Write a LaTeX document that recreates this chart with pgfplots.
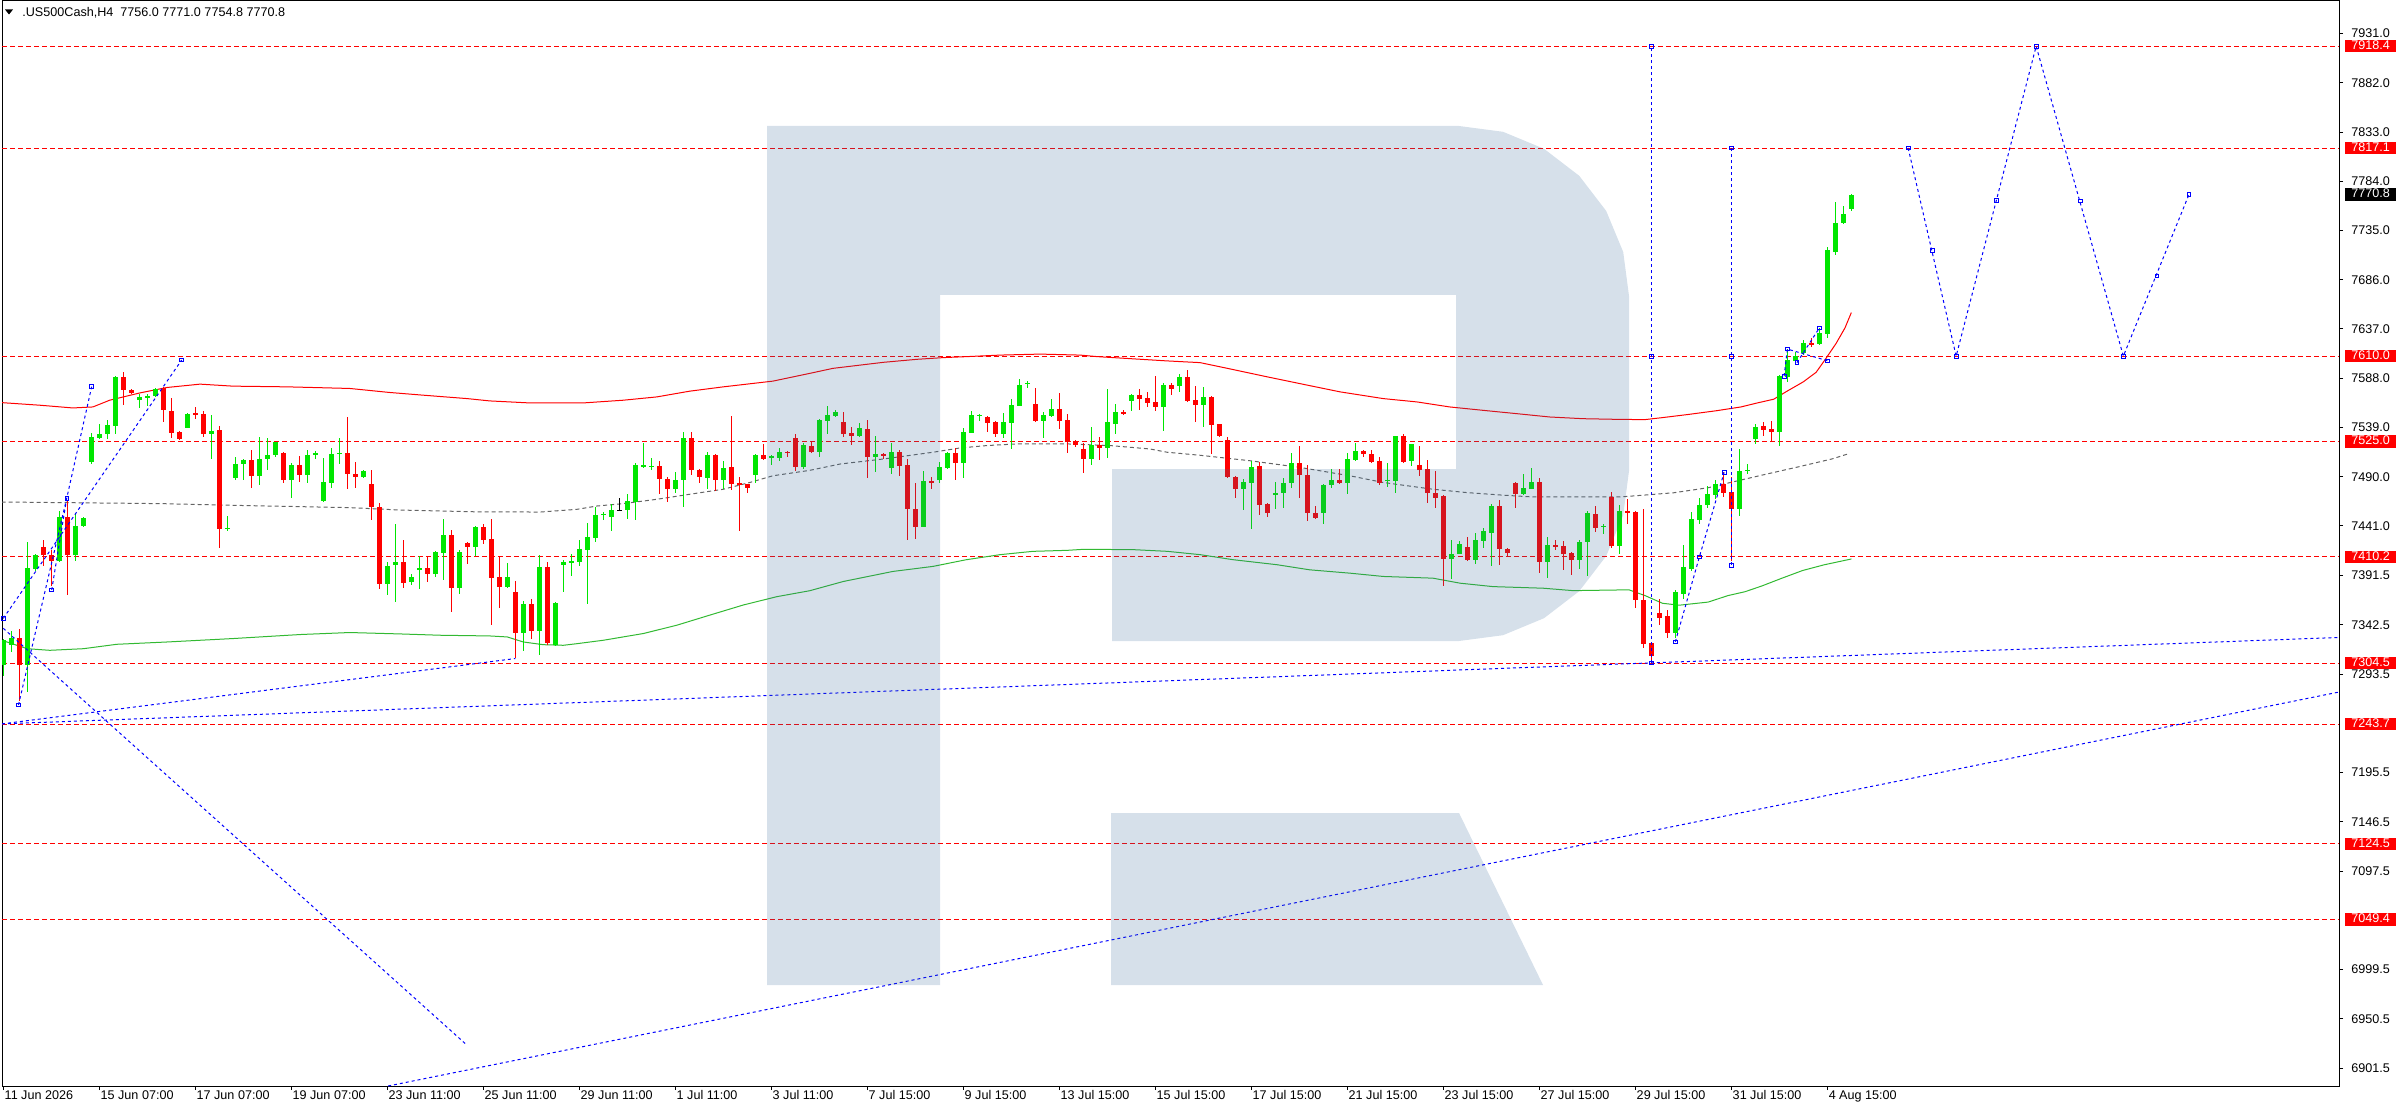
\documentclass[border=0pt]{standalone}
\usepackage{pgfplots}
\pgfplotsset{compat=1.18}
\usepackage{pgfplotstable}
\usepackage{fontspec}
\setmainfont{Liberation Sans}

\definecolor{cgreen}{RGB}{0,230,0}
\definecolor{cred}{RGB}{255,0,0}
\definecolor{magreen}{RGB}{50,185,50}
\definecolor{magray}{RGB}{100,100,100}
\definecolor{logo}{RGB}{50,100,150}
\definecolor{cblue}{RGB}{0,0,255}

% price box on the right scale
\newcommand{\lvl}[2]{{\setlength{\fboxsep}{0pt}\colorbox{#1}{\rule[-1.4pt]{0pt}{6.2pt}\makebox[26.5pt][l]{\hspace{3pt}\textcolor{white}{#2}}}}}

% H4 candles: bar index, open, high, low, close
\pgfplotstableread{
i O H L C
0 7302.8 7328.9 7292.1 7327.9
1 7322.8 7336.2 7315.5 7329.5
3 7302.8 7424.7 7275.4 7399.0
4 7398.3 7413.0 7395.7 7411.7
7 7405.7 7455.8 7405.0 7449.8
9 7412.4 7453.5 7405.7 7440.8
10 7440.8 7449.8 7439.8 7449.1
11 7504.3 7533.3 7502.6 7529.3
12 7528.6 7542.0 7527.6 7532.3
13 7532.0 7547.0 7527.6 7541.0
14 7540.3 7590.5 7532.7 7589.5
17 7566.1 7572.8 7558.4 7569.4
18 7569.1 7572.1 7560.1 7570.4
19 7570.4 7578.4 7569.4 7577.1
23 7538.7 7553.4 7538.3 7552.0
26 7532.7 7551.0 7507.6 7536.0
28 7438.1 7451.5 7436.4 7439.1
29 7488.6 7509.3 7486.6 7502.6
30 7502.6 7507.6 7486.6 7506.9
32 7490.9 7529.3 7482.2 7507.6
33 7507.6 7528.6 7496.6 7511.9
34 7511.6 7525.0 7509.9 7524.3
36 7486.9 7503.3 7468.5 7501.9
38 7491.9 7516.9 7483.5 7511.9
39 7511.9 7515.3 7507.6 7513.3
40 7465.8 7508.3 7465.2 7484.9
41 7484.2 7518.3 7478.5 7512.6
42 7512.9 7528.6 7502.6 7513.9
45 7489.9 7496.9 7489.2 7495.9
48 7383.3 7405.0 7372.3 7401.7
49 7402.4 7442.5 7365.6 7405.0
51 7385.0 7393.0 7382.3 7390.0
52 7398.3 7410.7 7378.3 7399.0
54 7393.3 7416.4 7390.7 7415.1
55 7414.1 7447.8 7387.3 7431.8
57 7379.0 7416.7 7373.3 7415.1
59 7420.1 7440.8 7411.4 7439.8
63 7380.3 7404.0 7379.0 7389.7
65 7334.9 7366.3 7316.2 7362.9
67 7336.2 7411.7 7312.2 7399.7
69 7322.2 7365.6 7321.5 7364.9
70 7401.7 7407.7 7375.6 7405.0
71 7404.4 7413.0 7391.3 7405.7
72 7405.4 7427.1 7401.4 7417.7
73 7417.4 7444.1 7363.3 7430.1
74 7429.1 7459.8 7424.7 7452.1
75 7451.8 7455.1 7446.5 7453.5
76 7449.5 7462.5 7436.4 7457.2
78 7456.5 7472.5 7448.1 7465.8
79 7465.2 7503.3 7446.5 7501.3
80 7500.2 7523.3 7499.2 7501.3
81 7499.9 7508.3 7496.6 7500.9
84 7477.5 7495.2 7474.2 7486.9
85 7486.6 7534.3 7460.2 7528.3
88 7489.2 7514.3 7478.2 7511.6
90 7486.6 7505.3 7477.5 7499.2
94 7491.6 7512.6 7483.5 7511.3
96 7509.3 7511.6 7501.6 7509.9
97 7508.6 7518.3 7505.3 7515.0
100 7500.2 7523.3 7497.6 7521.6
102 7514.3 7547.7 7509.3 7546.7
103 7545.4 7560.1 7532.7 7551.4
104 7550.4 7556.0 7549.4 7554.4
107 7530.3 7543.3 7529.3 7538.3
109 7509.6 7530.3 7495.2 7512.3
111 7498.6 7523.3 7492.6 7514.3
115 7440.1 7495.9 7440.1 7485.9
117 7486.9 7504.3 7484.2 7499.2
118 7498.6 7514.6 7497.6 7514.0
120 7503.3 7538.7 7489.2 7534.3
121 7533.7 7555.4 7533.3 7551.4
122 7550.7 7552.7 7545.4 7551.4
125 7532.3 7553.7 7528.6 7544.4
126 7543.3 7567.7 7517.6 7561.4
127 7560.4 7587.5 7560.1 7581.4
128 7582.4 7585.4 7578.4 7583.4
130 7545.4 7554.4 7528.3 7551.4
131 7550.0 7567.7 7549.0 7557.4
136 7507.6 7539.3 7501.6 7522.0
138 7518.6 7577.4 7508.6 7544.4
139 7542.7 7562.7 7532.7 7554.4
141 7565.4 7572.4 7555.4 7571.4
145 7559.4 7583.4 7535.3 7581.4
147 7580.4 7592.1 7574.4 7589.5
150 7561.7 7579.4 7539.3 7569.4
155 7477.5 7488.2 7456.5 7485.2
156 7484.2 7505.3 7438.4 7500.2
159 7471.5 7485.2 7457.5 7474.2
160 7473.5 7488.6 7458.5 7484.2
161 7483.5 7513.3 7478.5 7503.9
165 7453.5 7482.5 7442.5 7481.5
166 7481.5 7497.2 7478.5 7487.2
168 7483.5 7513.3 7472.5 7507.3
169 7506.6 7523.3 7505.9 7515.3
173 7485.9 7503.3 7480.2 7487.2
174 7486.2 7531.0 7473.5 7530.3
176 7505.3 7523.0 7500.2 7522.3
181 7408.4 7427.1 7388.3 7413.1
182 7413.4 7426.4 7413.1 7423.1
184 7407.0 7434.1 7403.4 7427.1
185 7426.4 7439.1 7419.1 7436.1
186 7434.1 7462.5 7401.4 7460.5
190 7472.5 7493.2 7471.5 7479.2
191 7478.2 7498.2 7477.5 7485.2
193 7405.0 7430.1 7389.0 7422.1
197 7406.9 7427.2 7398.5 7425.3
198 7424.6 7456.0 7390.8 7454.1
200 7439.9 7443.3 7433.0 7441.4
202 7421.5 7461.7 7412.7 7456.0
209 7334.1 7377.4 7329.5 7375.1
210 7373.6 7422.3 7367.9 7400.0
211 7398.5 7454.8 7396.6 7448.3
212 7447.2 7468.6 7443.3 7461.7
213 7461.7 7480.9 7459.0 7473.2
214 7472.1 7486.6 7467.5 7482.4
217 7457.9 7517.3 7451.0 7496.2
218 7495.4 7503.1 7492.4 7497.0
219 7528.0 7542.2 7523.0 7539.5
222 7534.5 7591.3 7520.7 7590.1
223 7589.0 7616.9 7584.4 7606.2
224 7605.4 7614.2 7602.7 7610.0
225 7613.1 7625.7 7611.2 7623.4
227 7621.9 7638.0 7620.8 7633.4
228 7632.3 7718.5 7627.6 7715.8
229 7713.9 7763.7 7710.8 7742.6
230 7742.2 7759.5 7741.5 7751.4
231 7756.0 7771.0 7754.8 7770.8
}\bull

\pgfplotstableread{
i O H L C
2 7329.5 7338.9 7267.1 7302.8
5 7419.7 7426.7 7401.7 7411.7
6 7411.7 7417.4 7381.3 7405.7
8 7449.8 7465.8 7372.3 7412.4
15 7589.5 7594.5 7561.7 7576.1
16 7576.4 7577.8 7572.1 7573.8
20 7578.4 7579.4 7545.0 7556.0
21 7556.0 7568.4 7528.3 7533.7
22 7534.3 7535.3 7526.6 7527.6
24 7553.4 7559.4 7547.7 7551.7
25 7552.0 7555.4 7530.0 7532.7
27 7536.0 7540.3 7419.1 7438.4
31 7506.9 7516.3 7478.5 7490.9
35 7513.6 7514.3 7483.9 7486.9
37 7501.9 7510.3 7484.2 7491.9
43 7513.9 7549.4 7477.5 7492.6
44 7493.2 7504.3 7478.5 7489.9
46 7483.2 7496.6 7446.5 7459.8
47 7459.8 7463.5 7378.3 7383.3
50 7405.0 7427.1 7379.0 7384.0
53 7399.7 7410.7 7385.0 7393.3
56 7431.8 7436.8 7355.6 7379.0
58 7423.7 7425.1 7403.4 7420.1
60 7439.8 7443.1 7423.4 7427.4
61 7428.1 7447.8 7342.2 7389.3
62 7389.7 7410.7 7359.6 7380.3
64 7375.6 7386.7 7309.8 7334.9
66 7362.9 7368.3 7328.9 7336.2
68 7399.7 7405.0 7322.2 7324.8
82 7500.2 7505.3 7472.5 7487.6
83 7488.2 7490.2 7465.2 7477.5
86 7528.3 7534.3 7491.6 7496.6
87 7497.2 7498.2 7484.2 7490.2
89 7511.6 7512.6 7475.9 7486.6
91 7499.2 7550.4 7476.5 7482.5
92 7483.5 7490.2 7435.8 7481.5
93 7483.2 7483.2 7473.5 7479.2
95 7511.3 7522.6 7506.6 7507.6
98 7515.0 7515.3 7509.3 7513.6
99 7528.3 7532.0 7495.2 7499.2
101 7521.0 7524.3 7513.6 7514.6
105 7544.4 7554.4 7529.3 7532.7
106 7533.3 7539.3 7521.6 7530.3
108 7537.7 7546.7 7488.6 7509.9
110 7512.3 7513.6 7507.6 7510.3
112 7514.3 7516.3 7491.2 7500.2
113 7501.6 7507.3 7427.4 7457.5
114 7458.2 7484.2 7428.4 7440.1
116 7486.2 7489.2 7478.2 7483.5
119 7514.0 7518.3 7486.6 7503.3
123 7549.4 7550.4 7534.3 7543.7
124 7544.4 7545.4 7529.3 7532.7
129 7562.4 7578.4 7544.4 7545.4
132 7557.4 7573.8 7537.3 7545.4
133 7546.4 7552.7 7513.3 7525.0
134 7526.0 7526.6 7519.3 7522.0
135 7517.3 7524.0 7494.2 7507.6
137 7522.0 7529.3 7506.6 7518.6
140 7554.4 7556.7 7551.7 7552.7
142 7571.4 7577.4 7556.7 7567.7
143 7568.4 7574.8 7559.4 7563.7
144 7564.4 7590.5 7555.4 7559.4
146 7581.4 7583.4 7571.7 7577.8
148 7589.5 7596.1 7564.4 7565.4
149 7566.1 7580.4 7544.4 7561.7
151 7569.4 7570.4 7512.6 7541.7
152 7542.7 7542.7 7530.0 7531.0
153 7526.0 7529.3 7489.2 7489.9
154 7490.2 7490.9 7468.5 7477.5
157 7500.9 7504.3 7451.5 7461.5
158 7462.5 7463.5 7450.1 7454.2
162 7503.3 7520.3 7468.5 7491.6
163 7492.2 7501.9 7445.5 7453.5
164 7454.2 7461.2 7448.1 7449.1
167 7486.6 7497.2 7482.5 7483.5
170 7515.3 7516.3 7509.3 7512.6
171 7512.9 7516.3 7503.3 7504.3
172 7505.3 7509.3 7481.9 7483.9
175 7530.3 7532.3 7503.9 7504.9
177 7501.3 7520.3 7490.9 7496.6
178 7497.2 7506.3 7464.2 7473.5
179 7474.2 7495.9 7459.2 7469.2
180 7470.5 7471.5 7381.0 7408.4
183 7420.1 7430.1 7406.4 7407.0
187 7460.5 7466.8 7402.4 7418.1
188 7418.4 7419.4 7411.4 7414.1
189 7484.2 7485.2 7459.2 7472.5
192 7485.2 7488.2 7394.0 7405.0
194 7421.7 7427.1 7417.4 7420.1
195 7421.5 7426.1 7397.4 7413.1
196 7413.8 7414.6 7392.7 7406.9
199 7452.9 7460.6 7434.9 7439.5
201 7470.2 7475.1 7419.6 7421.5
203 7456.0 7467.5 7443.3 7454.1
204 7455.2 7456.0 7359.4 7367.1
205 7367.9 7457.9 7320.0 7323.8
206 7324.5 7325.3 7303.9 7311.5
207 7354.4 7367.9 7342.2 7349.5
208 7351.4 7357.5 7329.5 7334.1
215 7482.4 7494.3 7469.4 7474.0
216 7475.1 7489.7 7406.2 7457.9
220 7540.3 7544.1 7530.7 7536.5
221 7537.6 7545.3 7525.0 7534.5
226 7623.4 7628.4 7618.8 7621.9
}\bear

\pgfplotstableread{
i O H L C
77 7456.8 7469.2 7455.8 7456.8
}\doji

\pgfplotsset{
  wick/.style={draw=none, forget plot, error bars/.cd, y dir=both, y explicit,
    error mark=none, error bar style={#1, line width=0.5pt}},
  body/.style={draw=none, forget plot, error bars/.cd, y dir=both, y explicit,
    error mark=none, error bar style={#1, line width=2.4pt}},
  lev/.style={cred, line width=0.5pt, dash pattern=on 2.5pt off 1.5pt},
  bl/.style={cblue, line width=0.5pt, dash pattern=on 1.5pt off 1.5pt},
  blm/.style={bl, mark=square, mark size=0.9pt, mark options={solid, line width=0.4pt}},
}

\begin{document}
\begin{tikzpicture}
\useasboundingbox (0,0) rectangle (1198pt,555pt);
\begin{axis}[
  at={(1pt,12pt)}, anchor=south west,
  width=1168.5pt, height=542.5pt, scale only axis,
  xmin=-0.16, xmax=291.96, ymin=6883.6, ymax=7963.4,
  axis line style={black, line width=0.5pt},
  tick style={black, line width=0.5pt},
  tick align=outside, major tick length=2pt,
  xtick pos=bottom, ytick pos=right, yticklabel pos=right,
  xtick={0,12,...,228},
  xticklabels={11 Jun 2026,15 Jun 07:00,17 Jun 07:00,19 Jun 07:00,23 Jun 11:00,25 Jun 11:00,
    29 Jun 11:00,1 Jul 11:00,3 Jul 11:00,7 Jul 15:00,9 Jul 15:00,13 Jul 15:00,15 Jul 15:00,
    17 Jul 15:00,21 Jul 15:00,23 Jul 15:00,27 Jul 15:00,29 Jul 15:00,31 Jul 15:00,4 Aug 15:00},
  ytick={6901.5,6950.5,6999.5,7097.5,7146.5,7195.5,7293.5,7342.5,7391.5,7441,7490,7539,
    7588,7637,7686,7735,7784,7833,7882,7931},
  scaled y ticks=false,
  tick label style={font=\fontsize{6.3}{7}\selectfont, inner sep=0pt},
  xticklabel style={anchor=north west, xshift=0.5pt},
  yticklabel style={anchor=west, xshift=4pt,
    /pgf/number format/fixed, /pgf/number format/fixed zerofill,
    /pgf/number format/precision=1, /pgf/number format/1000 sep={},
    /pgf/number format/assume math mode=true},
  extra y ticks={7918.4,7817.1,7770.8,7610.0,7525.0,7410.2,7304.5,7243.7,7124.5,7049.4},
  extra y tick labels={\lvl{red}{7918.4},\lvl{red}{7817.1},\lvl{black}{7770.8},\lvl{red}{7610.0},
    \lvl{red}{7525.0},\lvl{red}{7410.2},\lvl{red}{7304.5},\lvl{red}{7243.7},\lvl{red}{7124.5},
    \lvl{red}{7049.4}},
  extra y tick style={major tick length=0pt, yticklabel style={xshift=-1pt}},
  clip=true,
]
% horizontal levels
\pgfplotsinvokeforeach{7918.4,7817.1,7610.0,7525.0,7410.2,7304.5,7243.7,7124.5,7049.4}{
  \addplot[lev, forget plot] coordinates {(-0.16,#1) (291.96,#1)};
}

% moving averages
\addplot[cred, line width=0.5pt] coordinates {
(-0.2,7563.7) (4.6,7561.1) (8.7,7558.4) (11.2,7559.4) (13.3,7566.1) (17.1,7573.4)
(20.5,7578.8) (24.6,7582.1) (28.7,7580.1) (35.5,7579.4) (43.3,7577.8) (48.3,7573.8)
(52.5,7571.1) (58.0,7567.7) (60.8,7565.4) (65.8,7563.4) (72.5,7563.4) (77.5,7566.1)
(81.7,7569.4) (85.8,7575.1) (90.0,7579.4) (96.2,7585.1) (100.8,7592.8) (103.7,7597.8)
(110.0,7603.8) (114.2,7606.8) (117.5,7608.5) (120.5,7609.5) (124.6,7611) (129.6,7612)
(134.6,7611) (136.7,7609.5) (145.5,7605.2) (149.6,7603.5) (152.9,7598) (157.9,7589.5)
(163.0,7581.1) (167.1,7574.4) (172.5,7567.7) (176.7,7564.4) (180.8,7559.4) (185.0,7556.0)
(189.2,7552.7) (193.3,7549.4) (197.5,7547.7) (202.1,7547.0) (205.2,7546.8) (207.3,7548.7)
(210.5,7551.8) (214.1,7555.6) (217.2,7559.4) (219.2,7563.3) (221.3,7567.1) (222.9,7574.8)
(225.0,7584.4) (226.6,7593.9) (227.8,7607.4) (229.1,7622.7) (230.2,7638.0) (231.0,7653.3)
};
\addplot[magreen, line width=0.5pt] coordinates {
(-0.2,7327.2) (3.0,7318.8) (5.8,7317.2) (10.0,7318.8) (14.2,7323.2) (20.5,7325.5)
(28.7,7328.9) (37.1,7332.9) (43.3,7334.9) (49.6,7333.5) (54.6,7332.2) (60.8,7331.5)
(63.0,7330.5) (65.0,7325.5) (67.5,7322.8) (70.0,7322.2) (71.7,7323.8) (75.0,7327.2)
(80.0,7333.9) (84.2,7342.2) (88.3,7352.2) (92.5,7362.3) (96.7,7370.6) (100.8,7376.5)
(105.0,7385.7) (111.2,7395.7) (116.2,7400.7) (120.4,7407.4) (124.6,7412.4) (128.7,7415.7)
(133.0,7416.7) (135.0,7417.7) (141.2,7417.4) (145.5,7415.7) (149.6,7412.4) (153.7,7407.4)
(159.2,7402.4) (163.3,7397.3) (168.3,7394.0) (172.5,7390.7) (178.7,7389.0) (182.1,7384.0)
(186.2,7380.6) (192.5,7379.0) (196.2,7376.6) (203.2,7377.4) (205.2,7371.7) (207.4,7364.0)
(209.5,7362.1) (213.1,7365.2) (215.6,7371.7) (217.7,7375.5) (219.8,7381.2) (222.3,7388.9)
(224.9,7396.6) (227.6,7402.3) (231.0,7408.1)
};
\addplot[magray, line width=0.5pt, dash pattern=on 2pt off 1.5pt] coordinates {
(-0.2,7464.8) (19.6,7463.2) (28.7,7461.5) (43.3,7459.2) (49.6,7456.8) (58.7,7455.1)
(67.1,7454.8) (71.7,7457.5) (74.2,7460.8) (77.5,7463.2) (81.7,7467.5) (85.8,7472.5)
(90.0,7477.5) (93.3,7484.2) (96.2,7490.9) (100.8,7496.3) (104.6,7502.6) (110.0,7507.6)
(116.2,7514.3) (119.6,7518.6) (123.0,7521.0) (126.7,7522.6) (133.0,7522.6) (138.3,7521.0)
(143.3,7517.6) (145.5,7514.3) (149.6,7511.3) (155.8,7505.9) (162.1,7499.2) (168.3,7490.9)
(172.5,7484.2) (178.7,7477.5) (182.9,7474.2) (187.1,7471.8) (191.2,7469.8) (202.1,7469.8)
(208.8,7474.0) (213.1,7479.0) (216.2,7484.8) (220.3,7492.4) (224.5,7500.0) (228.6,7507.7)
(230.6,7512.7)
};

% candles
\addplot[wick=cgreen] table[x=i, y expr=(\thisrow{H}+\thisrow{L})/2, y error expr=(\thisrow{H}-\thisrow{L})/2] {\bull};
\addplot[wick=cred] table[x=i, y expr=(\thisrow{H}+\thisrow{L})/2, y error expr=(\thisrow{H}-\thisrow{L})/2] {\bear};
\addplot[wick=black] table[x=i, y expr=(\thisrow{H}+\thisrow{L})/2, y error expr=(\thisrow{H}-\thisrow{L})/2] {\doji};
\addplot[body=cgreen] table[x=i, y expr=(\thisrow{O}+\thisrow{C})/2, y error expr={max(abs(\thisrow{C}-\thisrow{O})/2,0.6)}] {\bull};
\addplot[body=cred] table[x=i, y expr=(\thisrow{O}+\thisrow{C})/2, y error expr={max(abs(\thisrow{C}-\thisrow{O})/2,0.6)}] {\bear};
\addplot[body=black] table[x=i, y expr=(\thisrow{O}+\thisrow{C})/2, y error expr={max(abs(\thisrow{C}-\thisrow{O})/2,0.6)}] {\doji};

% wave markings and projection
\addplot[bl] coordinates {(-0.16,7244.0) (291.96,7330.0)};
\addplot[bl] coordinates {(-0.16,7244.0) (64,7309.0)};
\addplot[bl] coordinates {(48.1,6883.6) (291.96,7275.7)};
\addplot[bl] coordinates {(0,7339.1) (57.8,6925.4)};
\addplot[blm] coordinates {(0,7349.0) (22.3,7606.1)};
\addplot[blm] coordinates {(1.9,7262.8) (7.93,7468.5) (11.05,7579.6)};
\addplot[blm] coordinates {(6.05,7377.2) (7.93,7468.5)};
\addplot[blm] coordinates {(206,7304.5) (206,7610.0) (206,7918.4)};
\addplot[blm] coordinates {(216,7402.0) (216,7610.0) (216,7817.1)};
\addplot[blm] coordinates {(209,7325.7) (212,7410.0) (215.1,7494.3)};
\addplot[blm] coordinates {(222.6,7590) (223,7617) (228,7605.4)};
\addplot[blm] coordinates {(224.2,7603.5) (227,7638)};
\addplot[blm] coordinates {(238.1,7817.1) (244.1,7610.0) (254.1,7918.4) (265,7610.0) (273.2,7770.8)};
\addplot[cblue, only marks, mark=square, mark size=0.9pt, mark options={line width=0.4pt}]
  coordinates {(241.1,7715.4) (249.1,7765.2) (259.6,7764.5) (269.2,7689.7)};
\end{axis}

% watermark and header, in pixel units of the 2396x1110 picture
\begin{scope}[x=0.5pt, y=-0.5pt, shift={(0pt,555pt)}]
\fill[logo, fill opacity=0.2]
  (767,126) -- (1459,126) -- (1503,131.8) -- (1544,148.8) -- (1579.2,175.8) -- (1606.2,211)
  -- (1623.2,252) -- (1629,296) -- (1629,471) -- (1623.2,515) -- (1606.2,556) -- (1579.2,591.2)
  -- (1544,618.2) -- (1503,635.2) -- (1459,641) -- (1112,641) -- (1112,469) -- (1456,469)
  -- (1456,295) -- (940,295) -- (940,985) -- (767,985) -- cycle
  (1111,813) -- (1459,813) -- (1543,985) -- (1111,985) -- cycle;
\fill[black] (5,9.5) -- (13,9.5) -- (9,14.5) -- cycle;
\node[anchor=base west, inner sep=0pt, font=\fontsize{6.3}{7}\selectfont] at (22,16.5)
  {.US500Cash,H4\ \ 7756.0 7771.0 7754.8 7770.8};
\end{scope}
\end{tikzpicture}
\end{document}
